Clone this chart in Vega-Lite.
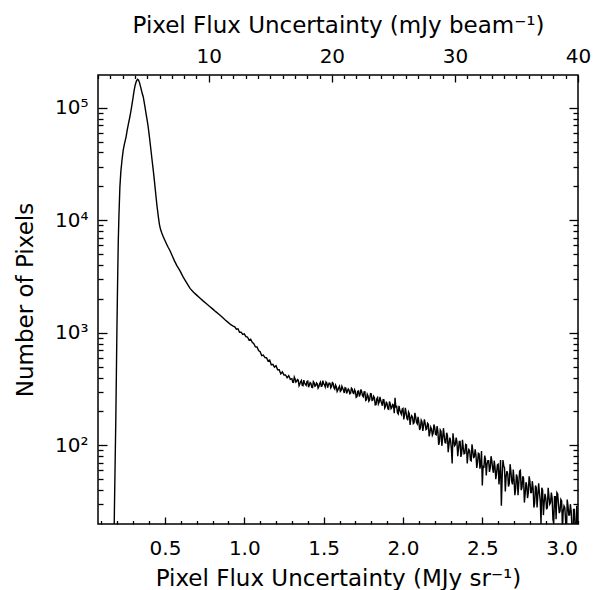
{
"$schema": "https://vega.github.io/schema/vega-lite/v6.json",
"width": 480, "height": 449,
"autosize": {"type": "none"},
"padding": {"left": 98, "top": 75, "right": 16, "bottom": 66},
"background": "white",
"config": {
  "view": {"stroke": "black", "strokeWidth": 1.5},
  "axis": {"domain": false, "grid": false, "labelFont": "DejaVu Sans", "labelFontSize": 20, "labelColor": "black", "titleFont": "DejaVu Sans", "titleFontSize": 23, "titleFontWeight": "normal", "titleColor": "black", "tickColor": "black", "tickWidth": 1.3, "labelOverlap": false, "labelFlush": false}
},
"data": {"values": [
{"sigma":0.170,"count":3},{"sigma":0.178,"count":12},{"sigma":0.182,"count":30},{"sigma":0.186,"count":70},{"sigma":0.190,"count":160},{"sigma":0.194,"count":450},{"sigma":0.197,"count":1000},{"sigma":0.200,"count":2000},{"sigma":0.203,"count":3800},{"sigma":0.206,"count":6700},{"sigma":0.210,"count":11000},{"sigma":0.216,"count":19800},{"sigma":0.222,"count":27000},{"sigma":0.230,"count":35000},{"sigma":0.237,"count":42000},{"sigma":0.245,"count":48000},{"sigma":0.255,"count":55000},{"sigma":0.262,"count":63000},{"sigma":0.270,"count":72000},{"sigma":0.279,"count":83000},{"sigma":0.288,"count":98000},{"sigma":0.297,"count":118000},{"sigma":0.306,"count":143000},{"sigma":0.313,"count":160000},{"sigma":0.320,"count":172000},{"sigma":0.327,"count":178600},{"sigma":0.333,"count":176000},{"sigma":0.340,"count":166000},{"sigma":0.348,"count":150000},{"sigma":0.356,"count":135000},{"sigma":0.363,"count":125000},{"sigma":0.372,"count":106000},{"sigma":0.380,"count":90000},{"sigma":0.388,"count":77000},{"sigma":0.394,"count":68000},{"sigma":0.402,"count":55000},{"sigma":0.410,"count":44000},{"sigma":0.418,"count":35000},{"sigma":0.426,"count":28000},{"sigma":0.434,"count":22000},{"sigma":0.442,"count":17000},{"sigma":0.450,"count":13300},{"sigma":0.458,"count":10800},{"sigma":0.465,"count":9200},{"sigma":0.472,"count":8300},{"sigma":0.480,"count":7700},{"sigma":0.490,"count":7100},{"sigma":0.500,"count":6600},{"sigma":0.510,"count":6150},{"sigma":0.520,"count":5750},{"sigma":0.532,"count":5350},{"sigma":0.545,"count":4850},{"sigma":0.560,"count":4350},{"sigma":0.575,"count":3950},{"sigma":0.595,"count":3550},{"sigma":0.615,"count":3120},{"sigma":0.635,"count":2800},{"sigma":0.658,"count":2480},{"sigma":0.680,"count":2290},{"sigma":0.700,"count":2160},{"sigma":0.720,"count":2040},{"sigma":0.740,"count":1920},{"sigma":0.760,"count":1820},{"sigma":0.780,"count":1720},{"sigma":0.800,"count":1630},{"sigma":0.820,"count":1540},{"sigma":0.840,"count":1460},{"sigma":0.860,"count":1380},{"sigma":0.880,"count":1300},{"sigma":0.900,"count":1230},{"sigma":0.915,"count":1180},{"sigma":0.930,"count":1145},
{"sigma":0.94,"count":1131},{"sigma":0.95,"count":1078},{"sigma":0.96,"count":1086},{"sigma":0.97,"count":1012},{"sigma":0.98,"count":1012},{"sigma":0.99,"count":967},{"sigma":1.00,"count":979},{"sigma":1.01,"count":924},{"sigma":1.02,"count":917},{"sigma":1.03,"count":861},{"sigma":1.04,"count":876},{"sigma":1.05,"count":824},{"sigma":1.06,"count":800},{"sigma":1.07,"count":751},{"sigma":1.08,"count":748},{"sigma":1.09,"count":694},{"sigma":1.10,"count":678},
{"sigma":1.11,"count":626},{"sigma":1.12,"count":633},{"sigma":1.13,"count":601},{"sigma":1.14,"count":600},{"sigma":1.15,"count":560},{"sigma":1.16,"count":572},{"sigma":1.17,"count":519},{"sigma":1.18,"count":524},{"sigma":1.19,"count":495},{"sigma":1.20,"count":510},{"sigma":1.21,"count":469},{"sigma":1.22,"count":469},{"sigma":1.23,"count":431},{"sigma":1.24,"count":449},{"sigma":1.25,"count":421},{"sigma":1.26,"count":422},{"sigma":1.27,"count":398},{"sigma":1.28,"count":416},{"sigma":1.29,"count":386},{"sigma":1.30,"count":391},
{"sigma":1.31,"count":362},{"sigma":1.32,"count":388},{"sigma":1.33,"count":370},{"sigma":1.34,"count":379},{"sigma":1.35,"count":351},{"sigma":1.36,"count":377},{"sigma":1.37,"count":339},{"sigma":1.38,"count":358},{"sigma":1.39,"count":341},{"sigma":1.40,"count":372},{"sigma":1.41,"count":343},{"sigma":1.42,"count":356},{"sigma":1.43,"count":326},{"sigma":1.44,"count":359},{"sigma":1.45,"count":340},{"sigma":1.46,"count":352},{"sigma":1.47,"count":332},{"sigma":1.48,"count":365},{"sigma":1.49,"count":336},{"sigma":1.50,"count":353},
{"sigma":1.51,"count":330},{"sigma":1.52,"count":358},{"sigma":1.53,"count":344},{"sigma":1.54,"count":356},{"sigma":1.55,"count":335},{"sigma":1.56,"count":355},{"sigma":1.57,"count":316},{"sigma":1.58,"count":331},{"sigma":1.59,"count":311},{"sigma":1.60,"count":335},{"sigma":1.61,"count":308},{"sigma":1.62,"count":321},{"sigma":1.63,"count":292},{"sigma":1.64,"count":322},{"sigma":1.65,"count":303},{"sigma":1.66,"count":310},{"sigma":1.67,"count":291},{"sigma":1.68,"count":316},{"sigma":1.69,"count":289},{"sigma":1.70,"count":301},
{"sigma":1.71,"count":271},{"sigma":1.72,"count":304},{"sigma":1.73,"count":284},{"sigma":1.74,"count":299},{"sigma":1.75,"count":270},{"sigma":1.76,"count":299},{"sigma":1.77,"count":253},{"sigma":1.78,"count":275},{"sigma":1.79,"count":254},{"sigma":1.80,"count":287},{"sigma":1.81,"count":253},{"sigma":1.82,"count":265},{"sigma":1.83,"count":230},{"sigma":1.84,"count":266},{"sigma":1.85,"count":242},{"sigma":1.86,"count":250},{"sigma":1.87,"count":225},{"sigma":1.88,"count":254},{"sigma":1.89,"count":221},{"sigma":1.90,"count":233},
{"sigma":1.91,"count":209},{"sigma":1.92,"count":233},{"sigma":1.93,"count":217},{"sigma":1.94,"count":228},{"sigma":1.95,"count":265},{"sigma":1.96,"count":226},{"sigma":1.97,"count":190},{"sigma":1.98,"count":206},{"sigma":1.99,"count":189},{"sigma":2.00,"count":213},{"sigma":2.01,"count":186},{"sigma":2.02,"count":194},{"sigma":2.03,"count":167},{"sigma":2.04,"count":191},{"sigma":2.05,"count":174},{"sigma":2.06,"count":178},{"sigma":2.07,"count":159},{"sigma":2.08,"count":179},{"sigma":2.09,"count":155},{"sigma":2.10,"count":161},
{"sigma":2.11,"count":144},{"sigma":2.12,"count":161},{"sigma":2.13,"count":150},{"sigma":2.14,"count":156},{"sigma":2.15,"count":140},{"sigma":2.16,"count":154},{"sigma":2.17,"count":130},{"sigma":2.18,"count":139},{"sigma":2.19,"count":128},{"sigma":2.20,"count":144},{"sigma":2.21,"count":124},{"sigma":2.22,"count":133},{"sigma":2.23,"count":108},{"sigma":2.24,"count":133},{"sigma":2.25,"count":116},{"sigma":2.26,"count":122},{"sigma":2.27,"count":105},{"sigma":2.28,"count":124},{"sigma":2.29,"count":102},{"sigma":2.30,"count":110},
{"sigma":2.31,"count":69},{"sigma":2.32,"count":111},{"sigma":2.33,"count":101},{"sigma":2.34,"count":108},{"sigma":2.35,"count":93},{"sigma":2.36,"count":108},{"sigma":2.37,"count":85},{"sigma":2.38,"count":95},{"sigma":2.39,"count":85},{"sigma":2.40,"count":101},{"sigma":2.41,"count":84},{"sigma":2.42,"count":90},{"sigma":2.43,"count":73},{"sigma":2.44,"count":90},{"sigma":2.45,"count":79},{"sigma":2.46,"count":82},{"sigma":2.47,"count":71},{"sigma":2.48,"count":84},{"sigma":2.49,"count":69},{"sigma":2.50,"count":44},
{"sigma":2.51,"count":63},{"sigma":2.52,"count":75},{"sigma":2.53,"count":68},{"sigma":2.54,"count":73},{"sigma":2.55,"count":63},{"sigma":2.56,"count":73},{"sigma":2.57,"count":57},{"sigma":2.58,"count":64},{"sigma":2.59,"count":57},{"sigma":2.60,"count":68},{"sigma":2.61,"count":56},{"sigma":2.62,"count":29},{"sigma":2.63,"count":74},{"sigma":2.64,"count":63},{"sigma":2.65,"count":53},{"sigma":2.66,"count":56},{"sigma":2.67,"count":46},{"sigma":2.68,"count":59},{"sigma":2.69,"count":45},{"sigma":2.70,"count":50},
{"sigma":2.71,"count":41},{"sigma":2.72,"count":52},{"sigma":2.73,"count":46},{"sigma":2.74,"count":60},{"sigma":2.75,"count":42},{"sigma":2.76,"count":51},{"sigma":2.77,"count":37},{"sigma":2.78,"count":44},{"sigma":2.79,"count":38},{"sigma":2.80,"count":48},{"sigma":2.81,"count":38},{"sigma":2.82,"count":42},{"sigma":2.83,"count":31},{"sigma":2.84,"count":42},{"sigma":2.85,"count":36},{"sigma":2.86,"count":38},{"sigma":2.87,"count":20},{"sigma":2.88,"count":40},{"sigma":2.89,"count":31},{"sigma":2.90,"count":34},
{"sigma":2.91,"count":28},{"sigma":2.92,"count":35},{"sigma":2.93,"count":31},{"sigma":2.94,"count":34},{"sigma":2.95,"count":20},{"sigma":2.96,"count":35},{"sigma":2.97,"count":38},{"sigma":2.98,"count":30},{"sigma":2.99,"count":26},{"sigma":3.00,"count":32},{"sigma":3.01,"count":26},{"sigma":3.02,"count":28},{"sigma":3.03,"count":16},{"sigma":3.04,"count":29},{"sigma":3.05,"count":24},{"sigma":3.06,"count":26},{"sigma":3.07,"count":13},{"sigma":3.08,"count":27},{"sigma":3.09,"count":15},{"sigma":3.10,"count":23},{"sigma":3.11,"count":19},
{"sigma":1.305,"count":364},{"sigma":1.315,"count":404},{"sigma":1.325,"count":364},{"sigma":1.335,"count":384},{"sigma":1.345,"count":338},{"sigma":1.355,"count":367},{"sigma":1.365,"count":342},{"sigma":1.375,"count":380},{"sigma":1.385,"count":348},{"sigma":1.395,"count":369},
{"sigma":1.405,"count":328},{"sigma":1.415,"count":361},{"sigma":1.425,"count":328},{"sigma":1.435,"count":368},{"sigma":1.445,"count":335},{"sigma":1.455,"count":359},{"sigma":1.465,"count":322},{"sigma":1.475,"count":355},{"sigma":1.485,"count":334},{"sigma":1.495,"count":375},
{"sigma":1.505,"count":345},{"sigma":1.515,"count":366},{"sigma":1.525,"count":325},{"sigma":1.535,"count":357},{"sigma":1.545,"count":324},{"sigma":1.555,"count":361},{"sigma":1.565,"count":325},{"sigma":1.575,"count":343},{"sigma":1.585,"count":301},{"sigma":1.595,"count":325},
{"sigma":1.605,"count":302},{"sigma":1.615,"count":335},{"sigma":1.625,"count":308},{"sigma":1.635,"count":325},{"sigma":1.645,"count":289},{"sigma":1.655,"count":317},{"sigma":1.665,"count":287},{"sigma":1.675,"count":322},{"sigma":1.685,"count":293},{"sigma":1.695,"count":312},
{"sigma":1.705,"count":267},{"sigma":1.715,"count":302},{"sigma":1.725,"count":272},{"sigma":1.735,"count":314},{"sigma":1.745,"count":276},{"sigma":1.755,"count":298},{"sigma":1.765,"count":250},{"sigma":1.775,"count":285},{"sigma":1.785,"count":247},{"sigma":1.795,"count":288},
{"sigma":1.805,"count":251},{"sigma":1.815,"count":273},{"sigma":1.825,"count":229},{"sigma":1.835,"count":259},{"sigma":1.845,"count":233},{"sigma":1.855,"count":269},{"sigma":1.865,"count":237},{"sigma":1.875,"count":255},{"sigma":1.885,"count":214},{"sigma":1.895,"count":244},
{"sigma":1.905,"count":211},{"sigma":1.915,"count":245},{"sigma":1.925,"count":212},{"sigma":1.935,"count":231},{"sigma":1.945,"count":193},{"sigma":1.955,"count":217},{"sigma":1.965,"count":195},{"sigma":1.975,"count":224},{"sigma":1.985,"count":196},{"sigma":1.995,"count":210},
{"sigma":2.005,"count":170},{"sigma":2.015,"count":215},{"sigma":2.025,"count":174},{"sigma":2.035,"count":198},{"sigma":2.045,"count":152},{"sigma":2.055,"count":183},{"sigma":2.065,"count":156},{"sigma":2.075,"count":194},{"sigma":2.085,"count":160},{"sigma":2.095,"count":179},
{"sigma":2.105,"count":137},{"sigma":2.115,"count":167},{"sigma":2.125,"count":134},{"sigma":2.135,"count":170},{"sigma":2.145,"count":138},{"sigma":2.155,"count":157},{"sigma":2.165,"count":120},{"sigma":2.175,"count":145},{"sigma":2.185,"count":123},{"sigma":2.195,"count":153},
{"sigma":2.205,"count":125},{"sigma":2.215,"count":148},{"sigma":2.225,"count":101},{"sigma":2.235,"count":137},{"sigma":2.245,"count":99},{"sigma":2.255,"count":142},{"sigma":2.265,"count":106},{"sigma":2.275,"count":129},{"sigma":2.285,"count":87},{"sigma":2.295,"count":117},
{"sigma":2.305,"count":93},{"sigma":2.315,"count":128},{"sigma":2.325,"count":99},{"sigma":2.335,"count":117},{"sigma":2.345,"count":80},{"sigma":2.355,"count":108},{"sigma":2.365,"count":79},{"sigma":2.375,"count":112},{"sigma":2.385,"count":84},{"sigma":2.395,"count":102},
{"sigma":2.405,"count":69},{"sigma":2.415,"count":92},{"sigma":2.425,"count":74},{"sigma":2.435,"count":102},{"sigma":2.445,"count":78},{"sigma":2.455,"count":92},{"sigma":2.465,"count":63},{"sigma":2.475,"count":85},{"sigma":2.485,"count":62},{"sigma":2.495,"count":89},
{"sigma":2.505,"count":66},{"sigma":2.515,"count":81},{"sigma":2.525,"count":54},{"sigma":2.535,"count":73},{"sigma":2.545,"count":58},{"sigma":2.555,"count":80},{"sigma":2.565,"count":62},{"sigma":2.575,"count":73},{"sigma":2.585,"count":50},{"sigma":2.595,"count":67},
{"sigma":2.605,"count":45},{"sigma":2.615,"count":74},{"sigma":2.625,"count":51},{"sigma":2.635,"count":66},{"sigma":2.645,"count":39},{"sigma":2.655,"count":59},{"sigma":2.665,"count":43},{"sigma":2.675,"count":68},{"sigma":2.685,"count":48},{"sigma":2.695,"count":61},
{"sigma":2.705,"count":36},{"sigma":2.715,"count":55},{"sigma":2.725,"count":36},{"sigma":2.735,"count":59},{"sigma":2.745,"count":40},{"sigma":2.755,"count":53},{"sigma":2.765,"count":31},{"sigma":2.775,"count":47},{"sigma":2.785,"count":34},{"sigma":2.795,"count":53},
{"sigma":2.805,"count":38},{"sigma":2.815,"count":48},{"sigma":2.825,"count":28},{"sigma":2.835,"count":44},{"sigma":2.845,"count":28},{"sigma":2.855,"count":46},{"sigma":2.865,"count":32},{"sigma":2.875,"count":42},{"sigma":2.885,"count":24},{"sigma":2.895,"count":37},
{"sigma":2.905,"count":27},{"sigma":2.915,"count":42},{"sigma":2.925,"count":30},{"sigma":2.935,"count":38},{"sigma":2.945,"count":22},{"sigma":2.955,"count":35},{"sigma":2.965,"count":22},{"sigma":2.975,"count":37},{"sigma":2.985,"count":25},{"sigma":2.995,"count":33},
{"sigma":3.005,"count":19},{"sigma":3.015,"count":29},{"sigma":3.025,"count":21},{"sigma":3.035,"count":33},{"sigma":3.045,"count":24},{"sigma":3.055,"count":30},{"sigma":3.065,"count":18},{"sigma":3.075,"count":27},{"sigma":3.085,"count":18},{"sigma":3.095,"count":29},{"sigma":3.105,"count":16}
]},
"layer": [
  {
    "mark": {"type": "line", "clip": true, "color": "black", "strokeWidth": 1.4},
    "encoding": {
      "x": {"field": "sigma", "type": "quantitative",
        "scale": {"domain": [0.078, 3.103], "nice": false, "zero": false},
        "axis": {"orient": "bottom", "title": "Pixel Flux Uncertainty (MJy sr⁻¹)",
          "values": [0.1,0.2,0.3,0.4,0.5,0.6,0.7,0.8,0.9,1,1.1,1.2,1.3,1.4,1.5,1.6,1.7,1.8,1.9,2,2.1,2.2,2.3,2.4,2.5,2.6,2.7,2.8,2.9,3,3.1],
          "tickSize": {"condition": {"test": "indexof([0.5,1,1.5,2,2.5,3], datum.value) >= 0", "value": -7}, "value": -3.5},
          "labelExpr": "indexof([0.5,1,1.5,2,2.5,3], datum.value) >= 0 ? format(datum.value, '.1f') : ''",
          "labelPadding": 21, "titlePadding": 6}},
      "y": {"field": "count", "type": "quantitative",
        "scale": {"type": "log", "domain": [20, 195000], "nice": false},
        "axis": {"orient": "left", "title": "Number of Pixels",
          "values": [30,40,50,60,70,80,90,100,200,300,400,500,600,700,800,900,1000,2000,3000,4000,5000,6000,7000,8000,9000,10000,20000,30000,40000,50000,60000,70000,80000,90000,100000],
          "tickSize": {"condition": {"test": "indexof([100,1000,10000,100000], datum.value) >= 0", "value": -9}, "value": -5},
          "labelExpr": "datum.value == 100 ? '10²' : datum.value == 1000 ? '10³' : datum.value == 10000 ? '10⁴' : datum.value == 100000 ? '10⁵' : ''",
          "labelPadding": 19, "titlePadding": 17}}
    }
  },
  {
    "data": {"values": [{"count": 100}]},
    "mark": {"type": "rule", "opacity": 0},
    "encoding": {
      "y": {"field": "count", "type": "quantitative",
        "scale": {"type": "log", "domain": [20, 195000], "nice": false},
        "axis": {"orient": "right", "title": null, "labels": false,
          "values": [30,40,50,60,70,80,90,100,200,300,400,500,600,700,800,900,1000,2000,3000,4000,5000,6000,7000,8000,9000,10000,20000,30000,40000,50000,60000,70000,80000,90000,100000],
          "tickSize": {"condition": {"test": "indexof([100,1000,10000,100000], datum.value) >= 0", "value": -9}, "value": -5}}}
    }
  },
  {
    "data": {"values": [{"mjy": 1}, {"mjy": 40}]},
    "mark": {"type": "rule", "opacity": 0},
    "encoding": {
      "x": {"field": "mjy", "type": "quantitative",
        "scale": {"domain": [1.0, 40], "nice": false, "zero": false},
        "axis": {"orient": "top", "title": "Pixel Flux Uncertainty (mJy beam⁻¹)",
          "values": [1,2,3,4,5,6,7,8,9,10,11,12,13,14,15,16,17,18,19,20,21,22,23,24,25,26,27,28,29,30,31,32,33,34,35,36,37,38,39,40],
          "tickSize": {"condition": {"test": "datum.value % 10 === 0", "value": -7}, "value": -3.5},
          "labelExpr": "datum.value % 10 === 0 ? '' + datum.value : ''",
          "labelPadding": 16, "titlePadding": 5}}
    }
  }
],
"resolve": {"scale": {"x": "independent"}, "axis": {"x": "independent", "y": "independent"}}
}
